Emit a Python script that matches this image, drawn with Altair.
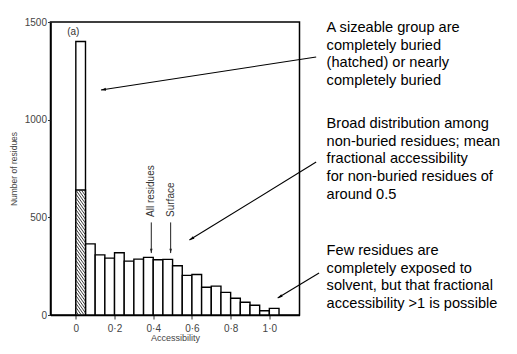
import math
import altair as alt
import pandas as pd

# ---------------- data ----------------
bin_start = [0.00, 0.05, 0.10, 0.15, 0.20, 0.25, 0.30, 0.35, 0.40, 0.45, 0.50,
             0.55, 0.60, 0.65, 0.70, 0.75, 0.80, 0.85, 0.90, 0.95, 1.00]
bin_end = [0.05, 0.10, 0.15, 0.20, 0.25, 0.30, 0.35, 0.40, 0.45, 0.50, 0.55,
           0.60, 0.65, 0.70, 0.75, 0.80, 0.85, 0.90, 0.95, 1.00, 1.05]
counts = [1400, 364, 308, 291, 319, 276, 286, 295, 283, 285, 252,
          203, 207, 142, 148, 116, 86, 65, 50, 22, 34]
buried_count = 640  # hatched part of first bin

x_ticks = [0, 0.2, 0.4, 0.6, 0.8, 1.0]
x_tick_labels = ["0", "0·2", "0·4", "0·6", "0·8", "1·0"]
y_ticks = [0, 500, 1000, 1500]

marker_labels = ["All residues", "Surface"]
marker_x = [0.39, 0.49]
marker_label_y = [502, 502]
marker_top = [474, 474]
marker_tip = [317, 317]

notes = [
    ["A sizeable group are", "completely buried", "(hatched) or nearly", "completely buried"],
    ["Broad distribution among", "non-buried residues; mean", "fractional accessibility",
     "for non-buried residues of", "around 0.5"],
    ["Few residues are", "completely exposed to", "solvent, but that fractional",
     "accessibility >1 is possible"],
]
note_x = [1.296, 1.296, 1.296]
note_y = [1449, 957, 307]

arrow_x1 = [1.242, 1.242, 1.257]
arrow_y1 = [1321, 783, 215]
arrow_x2 = [0.130, 0.587, 1.043]
arrow_y2 = [1152, 384, 87]

# ---------------- layout ----------------
X_DOMAIN = [-0.105, 1.13]
Y_DOMAIN = [0, 1500]
W, H = 249, 293
PXX = W / (X_DOMAIN[1] - X_DOMAIN[0])
PXY = H / (Y_DOMAIN[1] - Y_DOMAIN[0])

xs = alt.Scale(domain=X_DOMAIN, nice=False, zero=False)
ys = alt.Scale(domain=Y_DOMAIN, nice=False)

label_expr = "[" + ",".join(f"'{l}'" for l in x_tick_labels) + "][indexof([" + \
    ",".join(str(v) for v in x_ticks) + "], datum.value)]"

x_axis = alt.Axis(values=x_ticks, labelExpr=label_expr, title="Accessibility",
                  grid=False, domainColor="black", domainWidth=1.5, tickColor="#333",
                  tickSize=4, labelPadding=4, labelFont="Liberation Sans", labelFontSize=10,
                  labelColor="#444", titleFont="Liberation Sans", titleFontSize=9,
                  titleFontWeight="normal", titleColor="#444", titlePadding=0)
y_axis = alt.Axis(values=y_ticks, format="d", title="Number of residues",
                  grid=False, domainColor="black", domainWidth=1.5, tickColor="#333",
                  tickSize=3, labelPadding=1, labelFont="Liberation Sans", labelFontSize=10,
                  labelColor="#444", titleFont="Liberation Sans", titleFontSize=8.5,
                  titleFontWeight="normal", titleColor="#444", titlePadding=6)


def X(f):
    return alt.X(f, type="quantitative", scale=xs, axis=x_axis)


def Y(f):
    return alt.Y(f, type="quantitative", scale=ys, axis=y_axis)


bars_df = pd.DataFrame({"x0": bin_start, "x1": bin_end, "count": counts})
bars = alt.Chart(bars_df).mark_bar(fill="white", stroke="black", strokeWidth=1.4,
                                   orient="vertical").encode(
    x=X("x0"), x2="x1:Q", y=Y("count"), y2=alt.datum(0),
)

buried_df = pd.DataFrame({"x0": [bin_start[0]], "x1": [bin_end[0]], "count": [buried_count]})
buried = alt.Chart(buried_df).mark_bar(fill="white", stroke="black", strokeWidth=1.4,
                                       orient="vertical").encode(
    x=X("x0"), x2="x1:Q", y=Y("count"), y2=alt.datum(0),
)

# hatch decoration for the buried part (style only)
hx0, hx1 = bin_start[0], bin_end[0]
drop = 70.0
step = 20.0
segs = []
c = -drop
while c < buried_count:
    xl, yl = hx0, c + drop
    xr, yr = hx1, c
    if yr < 0:
        xr = hx0 + (hx1 - hx0) * (c + drop) / drop
        yr = 0
    if yl > buried_count:
        xl = hx0 + (hx1 - hx0) * (c + drop - buried_count) / drop
        yl = buried_count
    if xr > xl:
        segs.append({"a": xl, "b": yl, "c": xr, "d": yr})
    c += step
hatch = alt.Chart(pd.DataFrame(segs)).mark_rule(color="#222", strokeWidth=0.9).encode(
    x=X("a"), y=Y("b"), x2="c:Q", y2="d:Q",
)

panel_label = alt.Chart(pd.DataFrame({"x": [-0.013], "y": [1449], "t": ["(a)"]})).mark_text(
    font="Liberation Sans", fontSize=10, color="#333").encode(
    x=X("x"), y=Y("y"), text="t:N")

# vertical markers
mk_df = pd.DataFrame({"x": marker_x, "ly": marker_label_y, "top": marker_top,
                      "tip": marker_tip, "t": marker_labels})
mk_text = alt.Chart(mk_df).mark_text(angle=270, align="left", baseline="middle",
                                     font="Liberation Sans", fontSize=10, color="#333").encode(
    x=X("x"), y=Y("ly"), text="t:N")
mk_line = alt.Chart(mk_df).mark_rule(color="#222", strokeWidth=1).encode(
    x=X("x"), y=Y("top"), y2="tip:Q")
HEAD = "M0,0L-0.55,-1.8L0.55,-1.8Z"
mk_head = alt.Chart(mk_df).mark_point(shape=HEAD, filled=True, color="#222", size=22,
                                      opacity=1).encode(
    x=X("x"), y=Y("tip"))

# annotation arrows
angles = []
for a, b, c2, d in zip(arrow_x1, arrow_y1, arrow_x2, arrow_y2):
    dx = (c2 - a) * PXX
    dy = -(d - b) * PXY
    angles.append(math.degrees(math.atan2(-dx, dy)) % 360)
ar_df = pd.DataFrame({"x1": arrow_x1, "y1": arrow_y1, "x2": arrow_x2, "y2": arrow_y2,
                      "ang": angles})
ar_line = alt.Chart(ar_df).mark_rule(color="black", strokeWidth=1.1).encode(
    x=X("x1"), y=Y("y1"), x2="x2:Q", y2="y2:Q")
ar_head = alt.Chart(ar_df).mark_point(shape=HEAD, filled=True, color="black", size=30,
                                      opacity=1).encode(
    x=X("x2"), y=Y("y2"), angle=alt.Angle("ang:Q", scale=None))

note_df = pd.DataFrame({"x": note_x, "y": note_y, "t": notes})
note_text = alt.Chart(note_df).mark_text(align="left", baseline="alphabetic",
                                         font="Liberation Sans", fontSize=14.6,
                                         lineHeight=17.7, color="black").encode(
    x=X("x"), y=Y("y"), text="t")

chart = alt.layer(bars, buried, hatch, panel_label, mk_line, mk_head, mk_text,
                  ar_line, ar_head, note_text).properties(
    width=W, height=H, autosize="none",
    padding={"left": 42.5, "top": 14, "right": 209.5, "bottom": 31},
).configure_view(stroke="black", strokeWidth=1.5)

chart.save("out.html", embed_options={"renderer": "svg", "actions": False})
